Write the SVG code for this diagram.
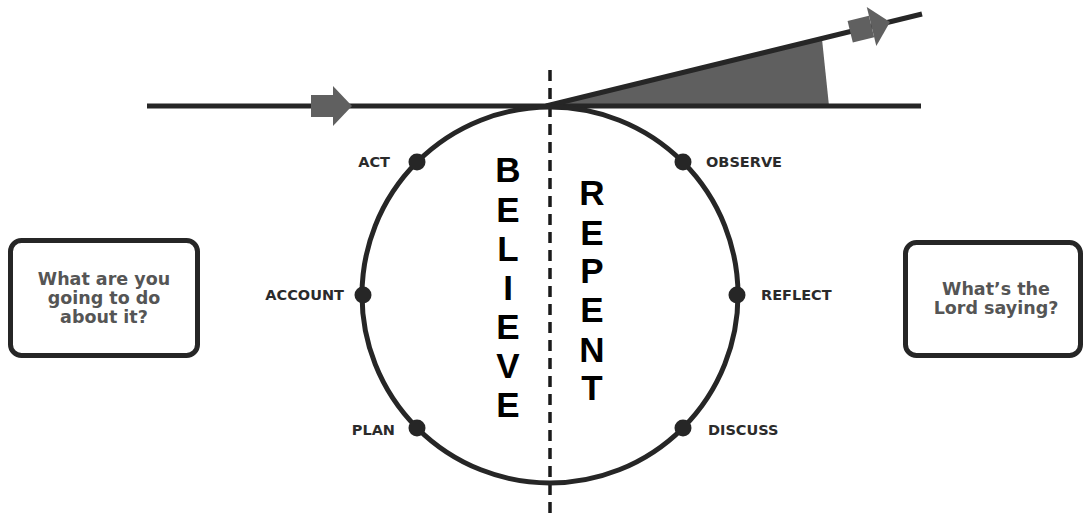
<svg xmlns="http://www.w3.org/2000/svg" width="1086" height="513" viewBox="0 0 1086 513">
  <style>
    .line { stroke: #262626; stroke-width: 5; fill: none; }
    .dash { stroke: #1a1a1a; stroke-width: 3.5; stroke-dasharray: 11 7; fill: none; }
    .dot { fill: #262626; }
    .lbl { font-family: "DejaVu Sans", "Liberation Sans", sans-serif; font-weight: bold; font-size: 14.5px; fill: #2b2b2b; }
    .big { font-family: "Liberation Sans", Arial, sans-serif; font-weight: bold; font-size: 35px; fill: #000; text-anchor: middle; }
    .box { fill: #fff; stroke: #262626; stroke-width: 5; }
    .btxt { font-family: "DejaVu Sans", "Liberation Sans", sans-serif; font-weight: bold; font-size: 17.5px; fill: #555; text-anchor: middle; }
    .arrow { fill: #606060; }
  </style>
  <defs>
    <g id="arr">
      <rect x="-41" y="-11" width="22" height="22"/>
      <polygon points="-19,-20 0,0 -19,20"/>
    </g>
  </defs>

  <g id="connectors">
    <polygon id="wedge" points="548,106 822,39 829,106" fill="#5f5f5f"/>
    <line class="line" x1="147" y1="106" x2="921" y2="106"/>
    <line class="line" x1="546" y1="106" x2="922" y2="14"/>
    <line class="dash" x1="550" y1="70" x2="550" y2="513"/>
    <use href="#arr" class="arrow" transform="translate(352,106)"/>
    <use href="#arr" class="arrow" transform="translate(890,22) rotate(-13.8)"/>
  </g>

  <g id="cycle">
    <circle class="line" cx="550" cy="295" r="188"/>
  </g>

  <g id="act"><circle class="dot" cx="417" cy="162" r="8.5"/><text class="lbl" x="390" y="167" text-anchor="end">ACT</text></g>
  <g id="account"><circle class="dot" cx="363" cy="295" r="8.5"/><text class="lbl" x="344" y="300" text-anchor="end">ACCOUNT</text></g>
  <g id="plan"><circle class="dot" cx="417" cy="428" r="8.5"/><text class="lbl" x="395" y="435" text-anchor="end">PLAN</text></g>
  <g id="observe"><circle class="dot" cx="683" cy="162" r="8.5"/><text class="lbl" x="706" y="167">OBSERVE</text></g>
  <g id="reflect"><circle class="dot" cx="737" cy="295" r="8.5"/><text class="lbl" x="761" y="300">REFLECT</text></g>
  <g id="discuss"><circle class="dot" cx="683" cy="428" r="8.5"/><text class="lbl" x="708" y="435">DISCUSS</text></g>

  <g id="believe">
    <text class="big" x="508" y="182">B</text>
    <text class="big" x="508" y="222">E</text>
    <text class="big" x="508" y="261">L</text>
    <text class="big" x="508" y="300">I</text>
    <text class="big" x="508" y="339">E</text>
    <text class="big" x="508" y="378">V</text>
    <text class="big" x="508" y="417">E</text>
  </g>

  <g id="repent">
    <text class="big" x="592" y="205">R</text>
    <text class="big" x="592" y="245">E</text>
    <text class="big" x="592" y="283">P</text>
    <text class="big" x="592" y="322">E</text>
    <text class="big" x="592" y="362">N</text>
    <text class="big" x="592" y="400">T</text>
  </g>

  <g id="left-box">
    <rect class="box" x="10.5" y="240.5" width="187" height="115" rx="11"/>
    <text class="btxt" x="104" y="285">What are you</text>
    <text class="btxt" x="104" y="304">going to do</text>
    <text class="btxt" x="104" y="323">about it?</text>
  </g>

  <g id="right-box">
    <rect class="box" x="905.5" y="242.5" width="175" height="113" rx="11"/>
    <text class="btxt" x="996" y="295">What’s the</text>
    <text class="btxt" x="996" y="314">Lord saying?</text>
  </g>
</svg>
